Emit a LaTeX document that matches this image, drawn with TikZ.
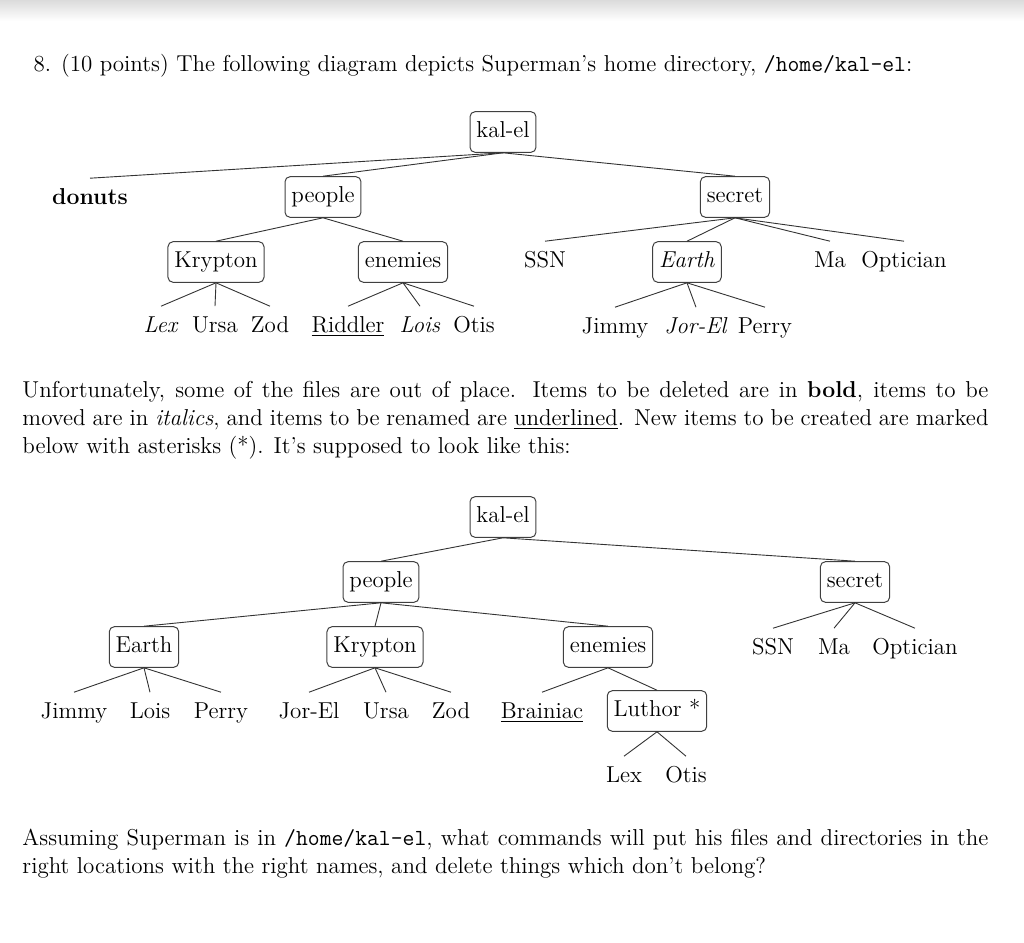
\documentclass[tikz,border=0pt]{standalone}
\usepackage{tikz}
\usetikzlibrary{positioning}

\begin{document}
\begin{tikzpicture}[x=0.5pt,y=-0.5pt,line width=.5pt,
  dirbox/.style={draw=black!75,rounded corners=2.5pt,inner xsep=3.2pt,inner ysep=5pt,text height=7.9pt,text depth=2.4pt,font=\fontsize{11.5}{14}\selectfont},
  fileleaf/.style={inner xsep=1pt,inner ysep=5pt,text height=7.9pt,text depth=2.4pt,font=\fontsize{11.5}{14}\selectfont},
  treeline/.style={draw=black!80,line width=.45pt},
  para/.style={anchor=base west,inner sep=0pt,text width=483pt,align=justify,font=\fontsize{11.5}{14}\selectfont}]
\path[use as bounding box] (0,0) rectangle (1024,943);
\shade[top color=black!14,bottom color=white] (0,0) rectangle (1024,21);
\node[anchor=base west,inner sep=0pt,font=\fontsize{11.5}{14}\selectfont] (title) at (33,71) {8. (10 points) The following diagram depicts Superman's home directory, \texttt{/home/kal-el}:};
\node[dirbox] (kalA) at (503,132) {kal-el};
\node[fileleaf,font=\fontsize{11.5}{14}\selectfont\bfseries] (donutsA) at (90,199) {donuts};
\node[dirbox] (peopleA) at (323,197) {people};
\node[dirbox] (secretA) at (735,197) {secret};
\node[dirbox] (kryptonA) at (216,262) {Krypton};
\node[dirbox] (enemiesA) at (403,262) {enemies};
\node[fileleaf] (ssnA) at (545,262) {SSN};
\node[dirbox] (earthA) at (687,262) {\textit{Earth}};
\node[fileleaf] (maA) at (830,262) {Ma};
\node[fileleaf] (opticianA) at (904,262) {Optician};
\node[fileleaf] (lexA) at (161,327) {\textit{Lex}};
\node[fileleaf] (ursaA) at (215,327) {Ursa};
\node[fileleaf] (zodA) at (270,327) {Zod};
\node[fileleaf] (riddlerA) at (348,327) {\underline{Riddler}};
\node[fileleaf] (loisA) at (420,327) {\textit{Lois}};
\node[fileleaf] (otisA) at (474,327) {Otis};
\node[fileleaf] (jimmyA) at (615,328) {Jimmy};
\node[fileleaf] (jorelA) at (696,328) {\textit{Jor-El}};
\node[fileleaf] (perryA) at (765,328) {Perry};
\draw[treeline] (kalA.south) -- (donutsA.north);
\draw[treeline] (kalA.south) -- (peopleA.north);
\draw[treeline] (kalA.south) -- (secretA.north);
\draw[treeline] (peopleA.south) -- (kryptonA.north);
\draw[treeline] (peopleA.south) -- (enemiesA.north);
\draw[treeline] (secretA.south) -- (ssnA.north);
\draw[treeline] (secretA.south) -- (earthA.north);
\draw[treeline] (secretA.south) -- (maA.north);
\draw[treeline] (secretA.south) -- (opticianA.north);
\draw[treeline] (kryptonA.south) -- (lexA.north);
\draw[treeline] (kryptonA.south) -- (ursaA.north);
\draw[treeline] (kryptonA.south) -- (zodA.north);
\draw[treeline] (enemiesA.south) -- (riddlerA.north);
\draw[treeline] (enemiesA.south) -- (loisA.north);
\draw[treeline] (enemiesA.south) -- (otisA.north);
\draw[treeline] (earthA.south) -- (jimmyA.north);
\draw[treeline] (earthA.south) -- (jorelA.north);
\draw[treeline] (earthA.south) -- (perryA.north);
\node[para] (intro) at (22,397) {Unfortunately, some of the files are out of place.  Items to be deleted are in \textbf{bold}, items to be\linebreak moved are in \textit{italics}, and items to be renamed are \underline{underlined}. New items to be created are marked\linebreak below with asterisks (*). It's supposed to look like this:};
\node[dirbox] (kalB) at (503,517) {kal-el};
\node[dirbox] (peopleB) at (381,582) {people};
\node[dirbox] (secretB) at (855,582) {secret};
\node[dirbox] (earthB) at (144,647) {Earth};
\node[dirbox] (kryptonB) at (375,647) {Krypton};
\node[dirbox] (enemiesB) at (608,647) {enemies};
\node[fileleaf] (ssnB) at (773,649) {SSN};
\node[fileleaf] (maB) at (834,649) {Ma};
\node[fileleaf] (opticianB) at (915,649) {Optician};
\node[fileleaf] (jimmyB) at (74,713) {Jimmy};
\node[fileleaf] (loisB) at (150,713) {Lois};
\node[fileleaf] (perryB) at (221,713) {Perry};
\node[fileleaf] (jorelB) at (309,713) {Jor-El};
\node[fileleaf] (ursaB) at (386,713) {Ursa};
\node[fileleaf] (zodB) at (451,713) {Zod};
\node[fileleaf] (brainiacB) at (542,713) {\underline{Brainiac}};
\node[dirbox] (luthorB) at (657,711) {Luthor *};
\node[fileleaf] (lexB) at (624,777) {Lex};
\node[fileleaf] (otisB) at (686,777) {Otis};
\draw[treeline] (kalB.south) -- (peopleB.north);
\draw[treeline] (kalB.south) -- (secretB.north);
\draw[treeline] (peopleB.south) -- (earthB.north);
\draw[treeline] (peopleB.south) -- (kryptonB.north);
\draw[treeline] (peopleB.south) -- (enemiesB.north);
\draw[treeline] (secretB.south) -- (ssnB.north);
\draw[treeline] (secretB.south) -- (maB.north);
\draw[treeline] (secretB.south) -- (opticianB.north);
\draw[treeline] (earthB.south) -- (jimmyB.north);
\draw[treeline] (earthB.south) -- (loisB.north);
\draw[treeline] (earthB.south) -- (perryB.north);
\draw[treeline] (kryptonB.south) -- (jorelB.north);
\draw[treeline] (kryptonB.south) -- (ursaB.north);
\draw[treeline] (kryptonB.south) -- (zodB.north);
\draw[treeline] (enemiesB.south) -- (brainiacB.north);
\draw[treeline] (enemiesB.south) -- (luthorB.north);
\draw[treeline] (luthorB.south) -- (lexB.north);
\draw[treeline] (luthorB.south) -- (otisB.north);
\node[para] (question) at (22,845) {Assuming Superman is in \texttt{/home/kal-el}, what commands will put his files and directories in the\linebreak right locations with the right names, and delete things which don't belong?};
\end{tikzpicture}
\end{document}
